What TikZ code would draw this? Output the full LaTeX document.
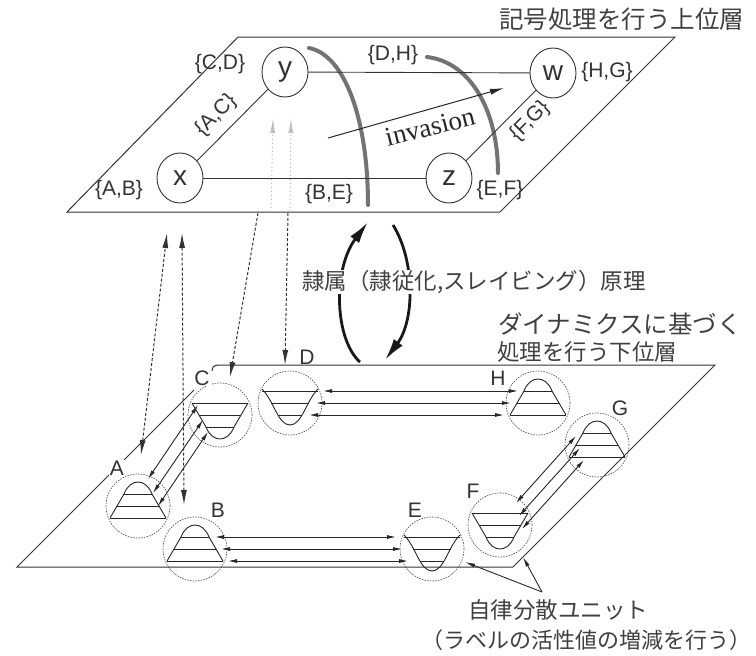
\documentclass[tikz,border=0pt]{standalone}
\usepackage{fontspec}
\setmainfont{Liberation Sans}
\newfontfamily\jpfont{Noto Sans CJK JP}
\newfontfamily\serifa{Liberation Serif}
\usetikzlibrary{arrows.meta,calc,shapes.geometric}
\begin{document}
\begin{tikzpicture}[x=1pt,y=-1pt,
  plane/.style={draw=black!80, line width=1pt},
  tnode/.style={ellipse, draw=black!80, line width=0.9pt, minimum width=46pt, minimum height=50pt, inner sep=0pt, fill=white, font=\fontsize{28}{28}\selectfont, text=black!80},
  elab/.style={font=\fontsize{21}{21}\selectfont, text=black!80, inner sep=1pt},
  jtext/.style={font=\jpfont\fontsize{22.5}{22.5}\selectfont, text=black!75, inner sep=0pt, anchor=west},
  unit/.style={circle, draw=black!65, dash pattern=on 1.5pt off 1.2pt, line width=0.7pt, minimum size=64pt, inner sep=0pt},
  ulab/.style={font=\fontsize{21}{21}\selectfont, text=black!80, inner sep=1pt},
  shp/.style={draw=black!85, line width=0.9pt},
  conn/.style={draw=black!85, line width=0.9pt, {Latex[length=9pt,width=4pt]}-{Latex[length=9pt,width=4pt]}},
  vdash/.style={draw=black!80, line width=1pt, dash pattern=on 3pt off 2pt, {Latex[length=15pt,width=6pt]}-{Latex[length=15pt,width=6pt]}},
  vdown/.style={draw=black!80, line width=1pt, dash pattern=on 3pt off 2pt, -{Latex[length=15pt,width=6pt]}},
  faint/.style={draw=black!25, line width=1pt, dash pattern=on 1.5pt off 2.5pt, -{Latex[length=15pt,width=5pt]}},
  garc/.style={draw=black!55, line width=4pt, line cap=round},
  bigarrow/.style={draw=black!90, line width=2.8pt, -{Latex[length=22pt,width=11pt]}},
  edge/.style={draw=black!80, line width=0.9pt},
  bell/.pic={
    \draw[shp] (-28,12) -- (-14,-12) .. controls (-8,-28) and (8,-28) .. (14,-12) -- (28,12);
    \draw[shp] (-28,12) -- (28,12) (-21,0) -- (21,0) (-14,-12) -- (14,-12);
  },
  cup/.pic={
    \draw[shp] (-28,-12) -- (-14,12) .. controls (-8,28) and (8,28) .. (14,12) -- (28,-12);
    \draw[shp] (-28,-12) -- (28,-12) (-21,0) -- (21,0) (-14,12) -- (14,12);
  },
  valley/.pic={
    \draw[shp] (-28,-14) .. controls (-16,-2) and (-12,22) .. (0,22) .. controls (12,22) and (16,-2) .. (28,-14);
    \draw[shp] (-28,-12) -- (28,-12) (-19,0) -- (19,0) (-12,12) -- (12,12);
  }
]
\useasboundingbox (0,0) rectangle (756,656);

% ---------- upper plane ----------
\draw[plane] (238,37) -- (675,37) -- (500,212) -- (67,212) -- cycle;
\node[jtext, font=\jpfont\fontsize{24.5}{24.5}\selectfont] (ttl) at (499,19) {記号処理を行う上位層};

% faint see-through arrows
\coordinate (f1a) at (271,212); \coordinate (f1b) at (273,118);
\coordinate (f2a) at (290,212); \coordinate (f2b) at (291,118);
\draw[faint] (f1a) -- (f1b);
\draw[faint] (f2a) -- (f2b);

% gray arcs
\draw[garc] (368,205) .. controls (368,120) and (345,55) .. (309,48);
\draw[garc] (498,173) .. controls (498,110) and (470,62) .. (427,57);

\node[tnode] (x) at (180,178) {x};
\node[tnode] (y) at (285,72) {y};
\node[tnode] (w) at (553,73) {w};
\node[tnode] (z) at (449,178) {z};
\draw[edge] (x) -- (y);
\draw[edge] (y) -- (w);
\draw[edge] (x) -- (z);
\draw[edge] (z) -- (w);

\node[elab] (lab1) at (119,190) {\{A,B\}};
\node[elab] (lab2) at (220,64) {\{C,D\}};
\node[elab, rotate=45] (lab3) at (216,115) {\{A,C\}};
\node[elab] (lab4) at (393,55) {\{D,H\}};
\node[elab] (lab5) at (607,72) {\{H,G\}};
\node[elab, rotate=45] (lab6) at (530,121) {\{F,G\}};
\node[elab] (lab7) at (329,194) {\{B,E\}};
\node[elab] (lab8) at (500,190) {\{E,F\}};

% invasion
\coordinate (iv1) at (328,138);
\coordinate (iv2) at (504,88);
\draw[draw=black!85, line width=1pt, -{Latex[length=14pt,width=6pt]}] (iv1) -- (iv2);
\node[font=\serifa\fontsize{27}{27}\selectfont, text=black!85, rotate=14, inner sep=0pt] (inv) at (430,127) {invasion};

% ---------- lower plane ----------
\draw[plane] (194,390) -- (17,567) -- (513,567) -- (715,365) -- (218,365) .. controls (213,366) .. (212,371);

\node[unit] (A) at (138,506) {};
\node[unit] (B) at (195,549) {};
\node[unit] (C) at (220,415) {};
\node[unit] (D) at (290,403) {};
\node[unit] (E) at (432,549) {};
\node[unit] (F) at (500,525) {};
\node[unit] (G) at (597,445) {};
\node[unit] (H) at (538,403) {};

\pic at (A.center) {bell};
\pic at (B.center) {bell};
\pic at (C.center) {cup};
\pic at (D.center) {valley};
\pic at (E.center) {valley};
\pic at (F.center) {cup};
\pic at (G.center) {bell};
\pic at (H.center) {bell};

\node[ulab, fill=white] (lA) at (117,468) {A};
\node[ulab] (lB) at (218,510) {B};
\node[ulab, fill=white] (lC) at (202,378) {C};
\node[ulab] (lD) at (307,357) {D};
\node[ulab] (lE) at (415,510) {E};
\node[ulab] (lF) at (473,491) {F};
\node[ulab] (lG) at (620,408) {G};
\node[ulab] (lH) at (498,378) {H};

% connectors between units
\draw[conn] ($(D)+(33,-12)$) -- ($(H)+(-20,-12)$);
\draw[conn] ($(D)+(26,0)$) -- ($(H)+(-27,0)$);
\draw[conn] ($(D)+(19,12)$) -- ($(H)+(-34,12)$);
\draw[conn] ($(B)+(20,-12)$) -- ($(E)+(-36,-12)$);
\draw[conn] ($(B)+(26,0)$) -- ($(E)+(-30,0)$);
\draw[conn] ($(B)+(33,12)$) -- ($(E)+(-24,12)$);
\draw[conn] ($(C)+(-22,-10)$) -- ($(A)+(10,-27)$);
\draw[conn] ($(C)+(-17,5)$) -- ($(A)+(15,-13)$);
\draw[conn] ($(C)+(-12,17)$) -- ($(A)+(20,0)$);
\draw[conn] ($(G)+(-21,-9)$) -- ($(F)+(16,-22)$);
\draw[conn] ($(G)+(-17,3)$) -- ($(F)+(19,-9)$);
\draw[conn] ($(G)+(-13,15)$) -- ($(F)+(22,4)$);

% dashed inter-layer arrows
\coordinate (u1) at (167,233);
\coordinate (u2) at (182,233);
\coordinate (u3) at (258,213);
\coordinate (u4) at (288,213);
\draw[vdash] ($(A)+(3,-51)$) -- (u1);
\draw[vdash] ($(B)+(-11,-44)$) -- (u2);
\draw[vdown] (u3) -- ($(C)+(10,-38)$);
\draw[vdown] (u4) -- ($(D)+(-5,-38)$);

% slaving principle arrows
\draw[bigarrow] (360,362) .. controls (335,340) and (332,270) .. (368,222);
\draw[bigarrow] (393,225) .. controls (415,260) and (415,320) .. (385,360);
\node[jtext, fill=white] (slv) at (302,282) {隷属（隷従化,スレイビング）原理};

\node[jtext, font=\jpfont\fontsize{24.5}{24.5}\selectfont] (low1) at (498,324) {ダイナミクスに基づく};
\node[jtext] (low2) at (497,352) {処理を行う下位層};

% autonomous units label
\coordinate (ua) at (542,592);
\draw[draw=black!85, line width=0.9pt, -{Latex[length=10pt,width=4pt]}] (ua) -- ($(E)+(33,13)$);
\draw[draw=black!85, line width=0.9pt, -{Latex[length=10pt,width=4pt]}] (ua) -- ($(F)+(23,32)$);
\node[jtext] (aut1) at (468,610) {自律分散ユニット};
\node[jtext, font=\jpfont\fontsize{22}{22}\selectfont] (aut2) at (421,640) {（ラベルの活性値の増減を行う）};
\end{tikzpicture}
\end{document}
